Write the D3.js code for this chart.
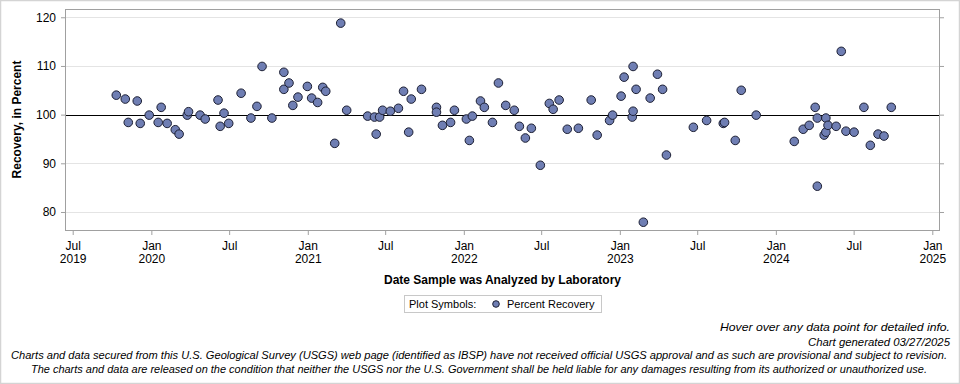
<!DOCTYPE html>
<html>
<head>
<meta charset="utf-8">
<script src="https://cdn.jsdelivr.net/npm/d3@7"></script>
<style>
  body { margin: 0; background: #fff; }
  svg { display: block; font-family: "Liberation Sans", Arial, sans-serif; }
</style>
</head>
<body>
<svg id="chart" width="960" height="384"></svg>
<script>
// sample dates and percent recovery
var sampleDates = [
  "2019-10-11","2019-11-01","2019-11-08","2019-11-29","2019-12-06","2019-12-27",
  "2020-01-17","2020-01-24","2020-02-07","2020-02-26","2020-03-06","2020-03-25",
  "2020-03-28","2020-04-24","2020-05-06","2020-06-05","2020-06-10","2020-06-19",
  "2020-06-30","2020-07-29","2020-08-21","2020-09-04","2020-09-16","2020-10-09",
  "2020-11-06","2020-11-06","2020-11-18","2020-11-27","2020-12-09","2020-12-31",
  "2021-01-10","2021-01-24","2021-02-05","2021-02-12","2021-03-05","2021-03-19",
  "2021-04-02","2021-05-21","2021-06-06","2021-06-18","2021-06-10","2021-06-25",
  "2021-07-13","2021-08-01","2021-08-13","2021-08-25","2021-08-31","2021-09-24",
  "2021-10-29","2021-10-29","2021-11-12","2021-12-01","2021-12-10","2022-01-07",
  "2022-01-14","2022-01-21","2022-02-09","2022-02-18","2022-03-09","2022-03-23",
  "2022-04-09","2022-04-29","2022-05-11","2022-05-25","2022-06-08","2022-06-29",
  "2022-07-20","2022-07-29","2022-08-12","2022-08-31","2022-09-26","2022-10-26",
  "2022-11-09","2022-12-08","2022-12-15","2023-01-04","2023-01-11","2023-01-30",
  "2023-02-01","2023-02-01","2023-02-08","2023-02-25","2023-03-13","2023-03-30",
  "2023-04-11","2023-04-20","2023-06-22","2023-07-23","2023-08-31","2023-09-03",
  "2023-09-28","2023-10-12","2023-11-16","2024-02-13","2024-03-05","2024-03-19",
  "2024-04-02","2024-04-07","2024-04-07","2024-04-23","2024-04-27","2024-04-27",
  "2024-05-02","2024-05-21","2024-06-02","2024-06-13","2024-07-02","2024-07-25",
  "2024-08-09","2024-08-27","2024-09-10","2024-09-27"
];
var recovery = [
  104.0, 103.2, 98.4, 102.8, 98.2, 99.9,
  98.4, 101.5, 98.2, 96.9, 96.0, 99.9,
  100.6, 99.9, 99.1, 103.0, 97.6, 100.3,
  98.2, 104.4, 99.3, 101.7, 109.9, 99.3,
  108.7, 105.2, 106.5, 101.9, 103.6, 105.8,
  103.4, 102.5, 105.6, 104.8, 94.1, 118.8,
  100.9, 99.7, 99.5, 99.5, 96.0, 100.9,
  100.7, 101.3, 104.8, 96.4, 103.2, 105.2,
  101.5, 100.5, 97.8, 98.4, 100.9, 99.1,
  94.7, 99.7, 102.8, 101.5, 98.4, 106.5,
  101.9, 100.9, 97.6, 95.2, 97.2, 89.6,
  102.3, 101.1, 103.0, 97.0, 97.2, 103.0,
  95.8, 98.8, 99.9, 103.8, 107.7, 99.5,
  100.7, 109.9, 105.2, 77.9, 103.4, 108.3,
  105.2, 91.7, 97.4, 98.8, 98.2, 98.4,
  94.7, 105.0, 99.9, 94.5, 97.0, 97.8,
  101.5, 99.3, 85.3, 95.8, 99.3, 96.4,
  97.8, 97.6, 113.0, 96.6, 96.4, 101.5,
  93.7, 96.0, 95.6, 101.5
];
var yTicks = [80, 90, 100, 110, 120];
var xTickDates = ["2019-07-01","2020-01-01","2020-07-01","2021-01-01","2021-07-01",
  "2022-01-01","2022-07-01","2023-01-01","2023-07-01","2024-01-01","2024-07-01","2025-01-01"];
var xDomain = ["2019-06-13", "2025-01-19"];
var yDomain = [76.3, 121.7];
var referenceValue = 100;

(function() {
  var parse = d3.timeParse("%Y-%m-%d");
  var points = sampleDates.map(function(d, i) { return {date: parse(d), value: recovery[i]}; });

  var svg = d3.select("#chart");
  var plotLeft = 65, plotRight = 940, plotTop = 9, plotBottom = 230;

  // outer border
  svg.append("rect").attr("x", 0.5).attr("y", 0.5).attr("width", 959).attr("height", 383)
    .attr("fill", "#fff").attr("stroke", "#d4d4d4").attr("stroke-width", 1.5);

  var x = d3.scaleTime().domain(xDomain.map(parse)).range([plotLeft, plotRight]);
  var y = d3.scaleLinear().domain(yDomain).range([plotBottom, plotTop]);

  // grid
  svg.append("g").selectAll("line").data(yTicks).enter().append("line")
    .attr("x1", plotLeft).attr("x2", plotRight)
    .attr("y1", function(d) { return Math.round(y(d)) + 0.5; })
    .attr("y2", function(d) { return Math.round(y(d)) + 0.5; })
    .attr("stroke", "#e4e4e4").attr("stroke-width", 1);

  // reference line at 100
  svg.append("line").attr("x1", plotLeft).attr("x2", plotRight)
    .attr("y1", Math.round(y(referenceValue)) + 0.5).attr("y2", Math.round(y(referenceValue)) + 0.5)
    .attr("stroke", "#000").attr("stroke-width", 1);

  // axes
  var gy = svg.append("g").attr("transform", "translate(" + plotLeft + ",0)")
    .call(d3.axisLeft(y).tickValues(yTicks).tickSize(4).tickPadding(5));
  var gyr = svg.append("g").attr("transform", "translate(" + plotRight + ",0)")
    .call(d3.axisRight(y).tickValues(yTicks).tickSize(4).tickFormat(""));

  var fmtMon = d3.timeFormat("%b"), fmtYear = d3.timeFormat("%Y");
  var firstTick = parse(xTickDates[0]).getTime();
  var gx = svg.append("g").attr("transform", "translate(0," + plotBottom + ")")
    .call(d3.axisBottom(x).tickValues(xTickDates.map(parse)).tickSize(5).tickPadding(6)
      .tickFormat(fmtMon));
  gx.selectAll(".tick text").each(function(d) {
    if (d.getMonth() === 0 || d.getTime() === firstTick) {
      d3.select(this).append("tspan").attr("x", 0).attr("dy", "1.15em").text(fmtYear(d));
    }
  });

  [gy, gyr, gx].forEach(function(g) {
    g.select(".domain").remove();
    g.selectAll(".tick line").attr("stroke", "#a0a0a0");
    g.selectAll(".tick text").attr("fill", "#000").attr("font-size", 12)
      .attr("font-family", "'Liberation Sans', Arial, sans-serif");
  });

  // plot frame
  svg.append("rect").attr("x", plotLeft + 0.5).attr("y", plotTop + 0.5)
    .attr("width", plotRight - plotLeft - 1).attr("height", plotBottom - plotTop)
    .attr("fill", "none").attr("stroke", "#a0a0a0");

  // points
  svg.append("g").selectAll("circle").data(points).enter().append("circle")
    .attr("cx", function(d) { return x(d.date); })
    .attr("cy", function(d) { return y(d.value); })
    .attr("r", 4.3)
    .attr("fill", "#6f7eb3").attr("stroke", "#1c1f33").attr("stroke-width", 1);

  // axis titles
  svg.append("text").attr("x", (plotLeft + plotRight) / 2).attr("y", 284).attr("text-anchor", "middle")
    .attr("font-size", 12).attr("font-weight", "bold").text("Date Sample was Analyzed by Laboratory");
  svg.append("text").attr("transform", "translate(21," + ((plotTop + plotBottom) / 2) + ") rotate(-90)")
    .attr("text-anchor", "middle").attr("font-size", 12).attr("font-weight", "bold")
    .text("Recovery, in Percent");

  // legend
  var lg = svg.append("g");
  lg.append("rect").attr("x", 404.5).attr("y", 295.5).attr("width", 197).attr("height", 17)
    .attr("fill", "#fff").attr("stroke", "#c8c8c8");
  lg.append("text").attr("x", 409).attr("y", 308).attr("font-size", 11).text("Plot Symbols:");
  lg.append("circle").attr("cx", 496).attr("cy", 304).attr("r", 3.3)
    .attr("fill", "#6f7eb3").attr("stroke", "#1c1f33");
  lg.append("text").attr("x", 507).attr("y", 308).attr("font-size", 11).text("Percent Recovery");

  // footer
  var footFont = "'Liberation Sans Narrow', 'Arial Narrow', 'Liberation Sans', sans-serif";
  function foot(txt, xx, yy, anchor, size, len) {
    var t = svg.append("text").attr("x", xx).attr("y", yy).attr("text-anchor", anchor)
      .attr("font-size", size).attr("font-style", "italic").attr("font-family", footFont).text(txt);
    if (len) t.attr("textLength", len).attr("lengthAdjust", "spacingAndGlyphs");
  }
  foot("Hover over any data point for detailed info.", 950, 331, "end", 11.5, 230);
  foot("Chart generated 03/27/2025", 950, 346, "end", 11.5, 142);
  foot("Charts and data secured from this U.S. Geological Survey (USGS) web page (identified as IBSP) have not received official USGS approval and as such are provisional and subject to revision.",
    479, 359, "middle", 10.5, 936);
  foot("The charts and data are released on the condition that neither the USGS nor the U.S. Government shall be held liable for any damages resulting from its authorized or unauthorized use.",
    479, 373, "middle", 10.5, 896);
})();
</script>
</body>
</html>
